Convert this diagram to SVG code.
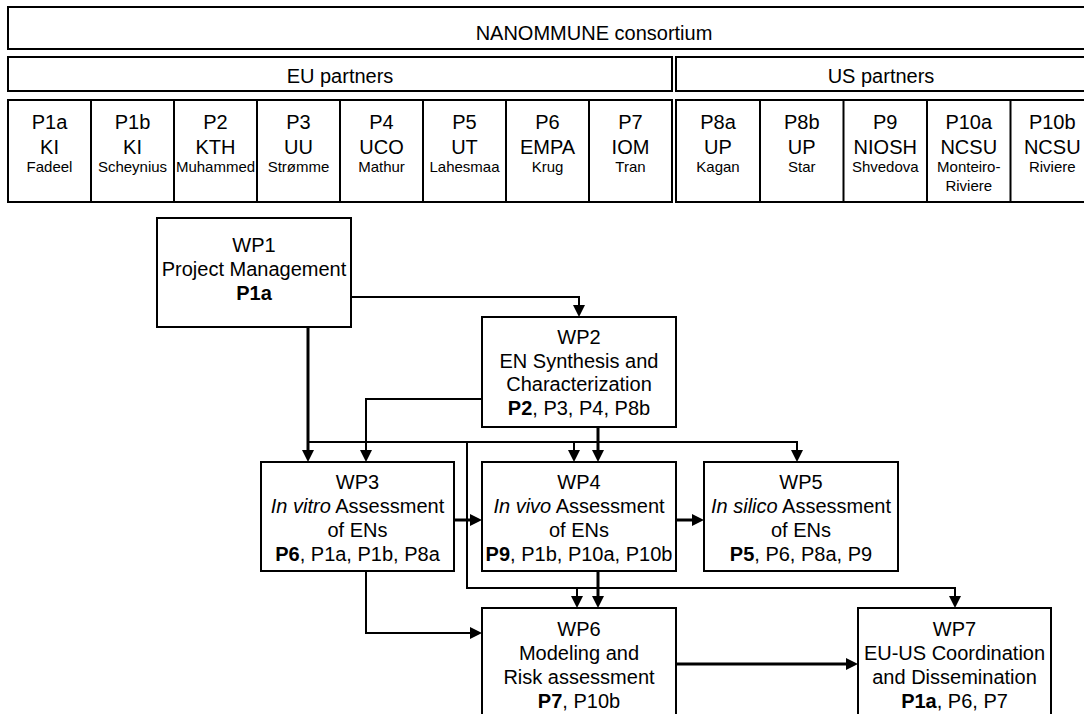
<svg xmlns="http://www.w3.org/2000/svg" width="1084" height="714" viewBox="0 0 1084 714">
<style>
text{font-family:"Liberation Sans",Arial,Helvetica,sans-serif;fill:#000;text-anchor:middle}
.t{font-size:20px}
.s{font-size:15px}
.b{font-weight:bold}
.i{font-style:italic}
.box{fill:#fff;stroke:#000;stroke-width:2}
.thin{fill:none;stroke:#000;stroke-width:2}
.thick{fill:none;stroke:#000;stroke-width:3}
</style>
<defs>
<marker id="ah" viewBox="0 0 12 12" refX="4" refY="6" markerWidth="12" markerHeight="12" markerUnits="userSpaceOnUse" orient="auto"><path d="M0,0 L12,6 L0,12 z" fill="#000"/></marker>
</defs>
<rect width="1084" height="714" fill="#fff"/>

<g id="consortium">
<rect class="box" x="8" y="7" width="1086" height="42"/>
<text class="t" x="594" y="39.5">NANOMMUNE consortium</text>
</g>
<g id="eu-partners">
<rect class="box" x="8" y="57" width="664" height="34"/>
<text class="t" x="340" y="83">EU partners</text>
</g>
<g id="us-partners">
<rect class="box" x="676" y="57" width="418" height="34"/>
<text class="t" x="881" y="83">US partners</text>
</g>

<g id="eu-table">
<rect class="box" x="8" y="100" width="664" height="102"/>
<path class="thin" d="M91,100V202M174,100V202M257,100V202M340,100V202M423,100V202M506,100V202M589,100V202"/>
</g>
<g id="us-table">
<rect class="box" x="676" y="100" width="418" height="102"/>
<path class="thin" d="M760,100V202M843.5,100V202M927,100V202M1010.5,100V202"/>
</g>

<g id="P1a"><text class="t" x="49.5" y="129">P1a</text><text class="t" x="49.5" y="154">KI</text><text class="s" x="49.5" y="172">Fadeel</text></g>
<g id="P1b"><text class="t" x="132.5" y="129">P1b</text><text class="t" x="132.5" y="154">KI</text><text class="s" x="132.5" y="172">Scheynius</text></g>
<g id="P2"><text class="t" x="215.5" y="129">P2</text><text class="t" x="215.5" y="154">KTH</text><text class="s" x="215.5" y="172">Muhammed</text></g>
<g id="P3"><text class="t" x="298.5" y="129">P3</text><text class="t" x="298.5" y="154">UU</text><text class="s" x="298.5" y="172">Strømme</text></g>
<g id="P4"><text class="t" x="381.5" y="129">P4</text><text class="t" x="381.5" y="154">UCO</text><text class="s" x="381.5" y="172">Mathur</text></g>
<g id="P5"><text class="t" x="464.5" y="129">P5</text><text class="t" x="464.5" y="154">UT</text><text class="s" x="464.5" y="172">Lahesmaa</text></g>
<g id="P6"><text class="t" x="547.5" y="129">P6</text><text class="t" x="547.5" y="154">EMPA</text><text class="s" x="547.5" y="172">Krug</text></g>
<g id="P7"><text class="t" x="630.5" y="129">P7</text><text class="t" x="630.5" y="154">IOM</text><text class="s" x="630.5" y="172">Tran</text></g>
<g id="P8a"><text class="t" x="718" y="129">P8a</text><text class="t" x="718" y="154">UP</text><text class="s" x="718" y="172">Kagan</text></g>
<g id="P8b"><text class="t" x="801.75" y="129">P8b</text><text class="t" x="801.75" y="154">UP</text><text class="s" x="801.75" y="172">Star</text></g>
<g id="P9"><text class="t" x="885.25" y="129">P9</text><text class="t" x="885.25" y="154">NIOSH</text><text class="s" x="885.25" y="172">Shvedova</text></g>
<g id="P10a"><text class="t" x="968.75" y="129">P10a</text><text class="t" x="968.75" y="154">NCSU</text><text class="s" x="968.75" y="172">Monteiro-</text><text class="s" x="968.75" y="191">Riviere</text></g>
<g id="P10b"><text class="t" x="1052.25" y="129">P10b</text><text class="t" x="1052.25" y="154">NCSU</text><text class="s" x="1052.25" y="172">Riviere</text></g>

<g id="connectors">
<path class="thin" d="M351,297H579V309" marker-end="url(#ah)"/>
<path class="thick" d="M308,327V454" marker-end="url(#ah)"/>
<path class="thin" d="M308,442H797V454" marker-end="url(#ah)"/>
<path class="thin" d="M574,442V454" marker-end="url(#ah)"/>
<path class="thin" d="M467,442V588H955V600" marker-end="url(#ah)"/>
<path class="thin" d="M577,588V600" marker-end="url(#ah)"/>
<path class="thin" d="M482,399H366V454" marker-end="url(#ah)"/>
<path class="thick" d="M598,427V454" marker-end="url(#ah)"/>
<path class="thick" d="M454,520H474" marker-end="url(#ah)"/>
<path class="thick" d="M676,520H696" marker-end="url(#ah)"/>
<path class="thin" d="M366,571V633H474" marker-end="url(#ah)"/>
<path class="thick" d="M598,571V600" marker-end="url(#ah)"/>
<path class="thick" d="M676,664H850" marker-end="url(#ah)"/>
</g>

<g id="WP1">
<rect class="box" x="157" y="218" width="194" height="109"/>
<text class="t" x="254" y="252">WP1</text>
<text class="t" x="254" y="276">Project Management</text>
<text class="t b" x="254" y="300">P1a</text>
</g>
<g id="WP2">
<rect class="box" x="482" y="317" width="194" height="110"/>
<text class="t" x="579" y="344">WP2</text>
<text class="t" x="579" y="367.5">EN Synthesis and</text>
<text class="t" x="579" y="391">Characterization</text>
<text class="t" x="579" y="414.5"><tspan class="b">P2</tspan>, P3, P4, P8b</text>
</g>
<g id="WP3">
<rect class="box" x="261" y="462" width="193" height="109"/>
<text class="t" x="357.5" y="489">WP3</text>
<text class="t" x="357.5" y="513"><tspan class="i">In vitro</tspan> Assessment</text>
<text class="t" x="357.5" y="537">of ENs</text>
<text class="t" x="357.5" y="561"><tspan class="b">P6</tspan>, P1a, P1b, P8a</text>
</g>
<g id="WP4">
<rect class="box" x="482" y="462" width="194" height="109"/>
<text class="t" x="579" y="489">WP4</text>
<text class="t" x="579" y="513"><tspan class="i">In vivo</tspan> Assessment</text>
<text class="t" x="579" y="537">of ENs</text>
<text class="t" x="579" y="561"><tspan class="b">P9</tspan>, P1b, P10a, P10b</text>
</g>
<g id="WP5">
<rect class="box" x="704" y="462" width="194" height="109"/>
<text class="t" x="801" y="489">WP5</text>
<text class="t" x="801" y="513"><tspan class="i">In silico</tspan> Assessment</text>
<text class="t" x="801" y="537">of ENs</text>
<text class="t" x="801" y="561"><tspan class="b">P5</tspan>, P6, P8a, P9</text>
</g>
<g id="WP6">
<rect class="box" x="482" y="608" width="194" height="120"/>
<text class="t" x="579" y="636">WP6</text>
<text class="t" x="579" y="660">Modeling and</text>
<text class="t" x="579" y="684">Risk assessment</text>
<text class="t" x="579" y="708"><tspan class="b">P7</tspan>, P10b</text>
</g>
<g id="WP7">
<rect class="box" x="858" y="608" width="193" height="120"/>
<text class="t" x="954.5" y="636">WP7</text>
<text class="t" x="954.5" y="660">EU-US Coordination</text>
<text class="t" x="954.5" y="684">and Dissemination</text>
<text class="t" x="954.5" y="708"><tspan class="b">P1a</tspan>, P6, P7</text>
</g>
</svg>
